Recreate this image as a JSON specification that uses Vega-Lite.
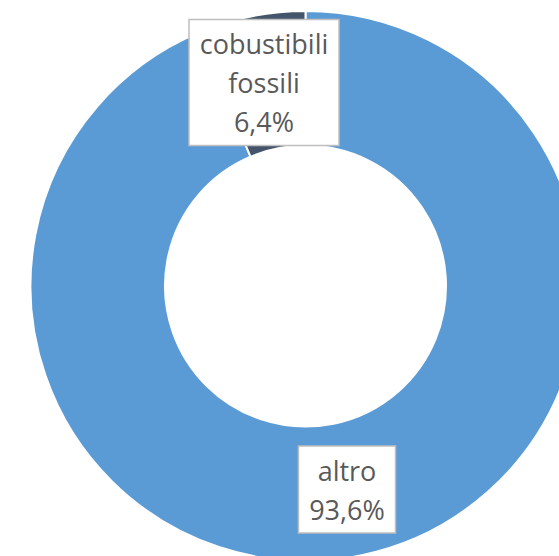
{
  "$schema": "https://vega.github.io/schema/vega-lite/v6.json",
  "autosize": "none",
  "width": 507,
  "height": 540,
  "padding": {"left": 52, "top": 16, "right": 0, "bottom": 0},
  "background": "white",
  "config": {"view": {"stroke": null}},
  "data": {"values": [
    {"categoria": "altro", "quota": 93.6},
    {"categoria": "cobustibili fossili", "quota": 6.4}
  ]},
  "transform": [
    {"joinaggregate": [{"op": "sum", "field": "quota", "as": "totale"}]},
    {"window": [{"op": "sum", "field": "quota", "as": "cumulata"}], "sort": [{"field": "categoria"}], "frame": [null, 0]},
    {"calculate": "(datum.cumulata - datum.quota / 2) / datum.totale * 2 * PI", "as": "angolo"},
    {"calculate": "207.75 * sin(datum.angolo)", "as": "lx"},
    {"calculate": "207.75 * cos(datum.angolo)", "as": "ly"},
    {"calculate": "datum.categoria == 'altro' ? 48.5 : 75", "as": "hw"},
    {"calculate": "datum.categoria == 'altro' ? 43.5 : 63", "as": "hh"},
    {"calculate": "datum.lx - datum.hw", "as": "bx1"},
    {"calculate": "datum.lx + datum.hw", "as": "bx2"},
    {"calculate": "datum.ly - datum.hh", "as": "by1"},
    {"calculate": "datum.ly + datum.hh", "as": "by2"},
    {"calculate": "replace(datum.categoria, ' ', '\\n') + '\\n' + replace(format(datum.quota / 100, '.1%'), '.', ',')", "as": "etichetta"},
    {"calculate": "datum.ly + (length(split(datum.etichetta, '\\n')) - 1) * 19.5", "as": "ty"}
  ],
  "layer": [
    {
      "mark": {"type": "arc", "innerRadius": 140.5, "outerRadius": 275, "stroke": "white", "strokeWidth": 2},
      "encoding": {
        "theta": {"field": "quota", "type": "quantitative", "stack": true},
        "color": {"field": "categoria", "type": "nominal", "scale": {"domain": ["altro", "cobustibili fossili"], "range": ["#5B9BD5", "#44546A"]}, "legend": null},
        "order": {"field": "categoria", "sort": "ascending"}
      }
    },
    {
      "mark": {"type": "rect", "fill": "white", "stroke": "#BFBFBF", "strokeWidth": 1.5},
      "encoding": {
        "x": {"field": "bx1", "type": "quantitative", "scale": {"domain": [-253.5, 253.5], "nice": false, "zero": false}, "axis": null},
        "x2": {"field": "bx2"},
        "y": {"field": "by1", "type": "quantitative", "scale": {"domain": [-270, 270], "nice": false, "zero": false}, "axis": null},
        "y2": {"field": "by2"}
      }
    },
    {
      "mark": {"type": "text", "font": "Open Sans", "fontSize": 27, "color": "#595959", "lineBreak": "\n", "lineHeight": 39, "baseline": "middle", "align": "center", "dy": 3},
      "encoding": {
        "x": {"field": "lx", "type": "quantitative", "scale": {"domain": [-253.5, 253.5], "nice": false, "zero": false}, "axis": null},
        "y": {"field": "ty", "type": "quantitative", "scale": {"domain": [-270, 270], "nice": false, "zero": false}, "axis": null},
        "text": {"field": "etichetta"}
      }
    }
  ]
}
